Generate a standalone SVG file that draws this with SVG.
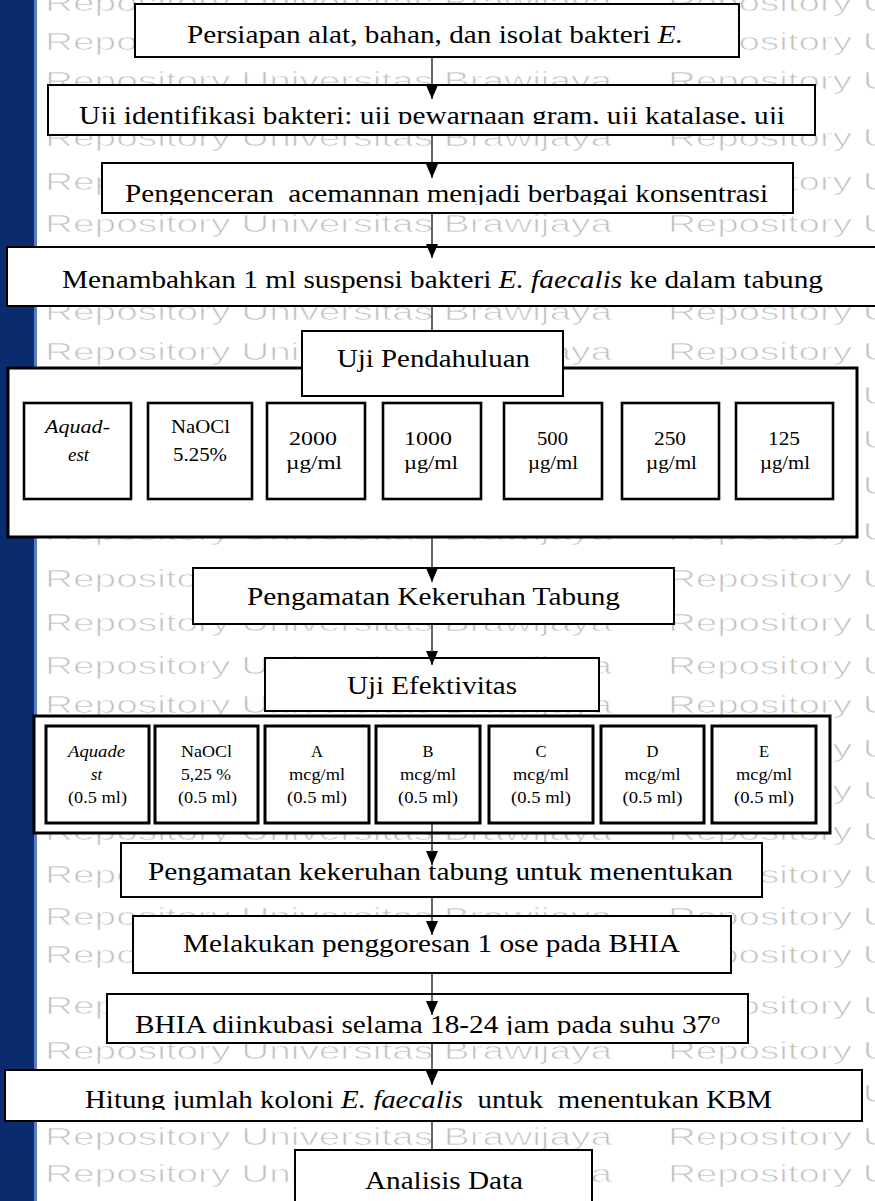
<svg xmlns="http://www.w3.org/2000/svg" xmlns:xlink="http://www.w3.org/1999/xlink" width="875" height="1201" viewBox="0 0 875 1201">
<style>
.wm{font-family:"Liberation Sans",Arial,sans-serif;font-size:23px;fill:#c2c2c2;stroke:#fff;stroke-width:0.7}
.t{font-family:"Liberation Serif","Times New Roman",serif;font-size:25px;fill:#000}
.s{font-family:"Liberation Serif","Times New Roman",serif;font-size:18px;fill:#000}
.x{font-family:"Liberation Serif","Times New Roman",serif;font-size:16.5px;fill:#000}
.i{font-style:italic}
.b{fill:#fff;stroke:#000;stroke-width:2}
.c{fill:#fff;stroke:#000;stroke-width:3}
.ib{fill:#fff;stroke:#000;stroke-width:2.6}
.ln{stroke:#000;stroke-width:1.2;fill:none}
.a{marker-end:url(#ah)}
</style>
<defs>
<marker id="ah" markerUnits="userSpaceOnUse" markerWidth="14" markerHeight="12" refX="14" refY="6" orient="auto">
<path d="M0,0 L14,6 L0,12 z" fill="#000"/>
</marker>
<clipPath id="c2"><rect x="48" y="85" width="767" height="39"/></clipPath>
<clipPath id="c3"><rect x="102" y="163" width="691" height="42"/></clipPath>
<clipPath id="c12"><rect x="107" y="994" width="641" height="41"/></clipPath>
<clipPath id="c13"><rect x="5" y="1070" width="857" height="40"/></clipPath>
<g id="wr">
<text class="wm" x="45" y="0" textLength="567" lengthAdjust="spacingAndGlyphs">Repository Universitas Brawijaya</text>
<text class="wm" x="668" y="0" textLength="385" lengthAdjust="spacingAndGlyphs">Repository Universitas</text>
</g>
</defs>
<rect x="0" y="0" width="875" height="1201" fill="#fff"/>
<g id="watermark">
<use xlink:href="#wr" y="11"/><use xlink:href="#wr" y="50"/><use xlink:href="#wr" y="89"/><use xlink:href="#wr" y="146"/>
<use xlink:href="#wr" y="190"/><use xlink:href="#wr" y="232"/><use xlink:href="#wr" y="276"/><use xlink:href="#wr" y="320"/>
<use xlink:href="#wr" y="360"/><use xlink:href="#wr" y="404"/><use xlink:href="#wr" y="448"/><use xlink:href="#wr" y="494"/>
<use xlink:href="#wr" y="540"/><use xlink:href="#wr" y="587"/><use xlink:href="#wr" y="631"/><use xlink:href="#wr" y="674"/>
<use xlink:href="#wr" y="713"/><use xlink:href="#wr" y="757"/><use xlink:href="#wr" y="799"/><use xlink:href="#wr" y="840"/>
<use xlink:href="#wr" y="883"/><use xlink:href="#wr" y="925"/><use xlink:href="#wr" y="963"/><use xlink:href="#wr" y="1014"/>
<use xlink:href="#wr" y="1059"/><use xlink:href="#wr" y="1102"/><use xlink:href="#wr" y="1145"/><use xlink:href="#wr" y="1182"/>
</g>
<rect x="0" y="0" width="34" height="1201" fill="#0a2b6d"/>
<rect x="34" y="0" width="3" height="1201" fill="#5a7cc0"/>

<g id="n1"><rect class="b" x="135" y="4" width="604" height="53"/>
<text class="t" x="187" y="43" textLength="496" lengthAdjust="spacingAndGlyphs">Persiapan alat, bahan, dan isolat bakteri <tspan class="i">E.</tspan></text></g>
<g id="n2"><rect class="b" x="48" y="85" width="767" height="50"/>
<text class="t" x="79" y="124" textLength="706" lengthAdjust="spacingAndGlyphs" clip-path="url(#c2)">Uji identifikasi bakteri: uji pewarnaan gram, uji katalase, uji</text></g>
<g id="n3"><rect class="b" x="102" y="163" width="691" height="50"/>
<text class="t" x="125" y="202" textLength="643" lengthAdjust="spacingAndGlyphs" clip-path="url(#c3)" xml:space="preserve">Pengenceran  acemannan menjadi berbagai konsentrasi</text></g>
<g id="n4"><rect class="b" x="7" y="247" width="880" height="59"/>
<text class="t" x="62" y="288" textLength="761" lengthAdjust="spacingAndGlyphs">Menambahkan 1 ml suspensi bakteri <tspan class="i">E. faecalis</tspan> ke dalam tabung</text></g>

<g id="n6"><rect class="c" x="8" y="368" width="849" height="169"/>
<rect class="ib" x="24" y="403" width="107" height="96"/>
<text class="s i" x="45" y="433" textLength="65" lengthAdjust="spacingAndGlyphs">Aquad-</text>
<text class="s i" x="68" y="461" textLength="21" lengthAdjust="spacingAndGlyphs">est</text>
<rect class="ib" x="148" y="403" width="104" height="96"/>
<text class="s" x="171" y="433" textLength="59" lengthAdjust="spacingAndGlyphs">NaOCl</text>
<text class="s" x="173" y="461" textLength="54" lengthAdjust="spacingAndGlyphs">5.25%</text>
<rect class="ib" x="267" y="403" width="98" height="96"/>
<text class="s" x="289" y="445" textLength="48" lengthAdjust="spacingAndGlyphs">2000</text>
<text class="s" x="286" y="469" textLength="56" lengthAdjust="spacingAndGlyphs">µg/ml</text>
<rect class="ib" x="383" y="403" width="98" height="96"/>
<text class="s" x="404" y="445" textLength="48" lengthAdjust="spacingAndGlyphs">1000</text>
<text class="s" x="404" y="469" textLength="54" lengthAdjust="spacingAndGlyphs">µg/ml</text>
<rect class="ib" x="504" y="403" width="98" height="96"/>
<text class="s" x="537" y="445" textLength="31" lengthAdjust="spacingAndGlyphs">500</text>
<text class="s" x="528" y="469" textLength="50" lengthAdjust="spacingAndGlyphs">µg/ml</text>
<rect class="ib" x="622" y="403" width="97" height="96"/>
<text class="s" x="654" y="445" textLength="32" lengthAdjust="spacingAndGlyphs">250</text>
<text class="s" x="646" y="469" textLength="51" lengthAdjust="spacingAndGlyphs">µg/ml</text>
<rect class="ib" x="736" y="403" width="97" height="96"/>
<text class="s" x="768" y="445" textLength="32" lengthAdjust="spacingAndGlyphs">125</text>
<text class="s" x="760" y="469" textLength="50" lengthAdjust="spacingAndGlyphs">µg/ml</text>
</g>
<g id="n5"><rect class="b" x="302" y="331" width="261" height="65"/>
<text class="t" x="337" y="367" textLength="193" lengthAdjust="spacingAndGlyphs">Uji Pendahuluan</text></g>

<g id="n7"><rect class="b" x="193" y="568" width="481" height="56"/>
<text class="t" x="247" y="605" textLength="373" lengthAdjust="spacingAndGlyphs">Pengamatan Kekeruhan Tabung</text></g>
<g id="n8"><rect class="b" x="265" y="658" width="334" height="53"/>
<text class="t" x="347" y="694" textLength="170" lengthAdjust="spacingAndGlyphs">Uji Efektivitas</text></g>

<g id="n9"><rect class="c" x="34" y="716" width="796" height="117"/>
<rect class="c" x="46" y="726" width="103" height="97"/>
<text class="x i" x="68" y="757" textLength="57" lengthAdjust="spacingAndGlyphs">Aquade</text>
<text class="x i" x="91" y="780" textLength="11" lengthAdjust="spacingAndGlyphs">st</text>
<text class="x" x="68" y="803" textLength="59" lengthAdjust="spacingAndGlyphs">(0.5 ml)</text>
<rect class="c" x="155" y="726" width="103" height="97"/>
<text class="x" x="181" y="757" textLength="51" lengthAdjust="spacingAndGlyphs">NaOCl</text>
<text class="x" x="181" y="780" textLength="50" lengthAdjust="spacingAndGlyphs">5,25 %</text>
<text class="x" x="178" y="803" textLength="59" lengthAdjust="spacingAndGlyphs">(0.5 ml)</text>
<rect class="c" x="265" y="726" width="104" height="97"/>
<text class="x" x="317" y="757" text-anchor="middle">A</text>
<text class="x" x="289" y="780" textLength="56" lengthAdjust="spacingAndGlyphs">mcg/ml</text>
<text class="x" x="287" y="803" textLength="60" lengthAdjust="spacingAndGlyphs">(0.5 ml)</text>
<rect class="c" x="376" y="726" width="104" height="97"/>
<text class="x" x="428" y="757" text-anchor="middle">B</text>
<text class="x" x="400" y="780" textLength="56" lengthAdjust="spacingAndGlyphs">mcg/ml</text>
<text class="x" x="398" y="803" textLength="60" lengthAdjust="spacingAndGlyphs">(0.5 ml)</text>
<rect class="c" x="489" y="726" width="104" height="97"/>
<text class="x" x="541" y="757" text-anchor="middle">C</text>
<text class="x" x="513" y="780" textLength="56" lengthAdjust="spacingAndGlyphs">mcg/ml</text>
<text class="x" x="511" y="803" textLength="60" lengthAdjust="spacingAndGlyphs">(0.5 ml)</text>
<rect class="c" x="601" y="726" width="103" height="97"/>
<text class="x" x="652.5" y="757" text-anchor="middle">D</text>
<text class="x" x="624.5" y="780" textLength="56" lengthAdjust="spacingAndGlyphs">mcg/ml</text>
<text class="x" x="622.5" y="803" textLength="60" lengthAdjust="spacingAndGlyphs">(0.5 ml)</text>
<rect class="c" x="712" y="726" width="104" height="97"/>
<text class="x" x="764" y="757" text-anchor="middle">E</text>
<text class="x" x="736" y="780" textLength="56" lengthAdjust="spacingAndGlyphs">mcg/ml</text>
<text class="x" x="734" y="803" textLength="60" lengthAdjust="spacingAndGlyphs">(0.5 ml)</text>
</g>

<g id="n10"><rect class="b" x="121" y="843" width="641" height="54"/>
<text class="t" x="148" y="880" textLength="585" lengthAdjust="spacingAndGlyphs">Pengamatan kekeruhan tabung untuk menentukan</text></g>
<g id="n11"><rect class="b" x="133" y="916" width="598" height="57"/>
<text class="t" x="183" y="952" textLength="497" lengthAdjust="spacingAndGlyphs">Melakukan penggoresan 1 ose pada BHIA</text></g>
<g id="n12"><rect class="b" x="107" y="994" width="641" height="49"/>
<text class="t" x="135" y="1033" textLength="585" lengthAdjust="spacingAndGlyphs" clip-path="url(#c12)">BHIA diinkubasi selama 18-24 jam pada suhu 37<tspan font-size="15" dy="-9">o</tspan></text></g>
<g id="n13"><rect class="b" x="5" y="1070" width="857" height="51"/>
<text class="t" x="85" y="1108" textLength="687" lengthAdjust="spacingAndGlyphs" clip-path="url(#c13)" xml:space="preserve">Hitung jumlah koloni <tspan class="i">E. faecalis</tspan>  untuk  menentukan KBM</text></g>
<g id="n14"><rect class="b" x="295" y="1150" width="297" height="60"/>
<text class="t" x="365" y="1189" textLength="158" lengthAdjust="spacingAndGlyphs">Analisis Data</text></g>

<g id="connectors">
<line class="ln a" x1="432" y1="57" x2="432" y2="99"/>
<line class="ln a" x1="432" y1="135" x2="432" y2="178"/>
<line class="ln a" x1="432" y1="213" x2="432" y2="258"/>
<line class="ln" x1="432" y1="306" x2="432" y2="331"/>
<line class="ln a" x1="432" y1="538" x2="432" y2="582"/>
<line class="ln a" x1="432" y1="624" x2="432" y2="665"/>
<line class="ln a" x1="432" y1="823" x2="432" y2="865"/>
<line class="ln a" x1="432" y1="897" x2="432" y2="935"/>
<line class="ln a" x1="432" y1="973" x2="432" y2="1015"/>
<line class="ln a" x1="432" y1="1043" x2="432" y2="1085"/>
<line class="ln" x1="432" y1="1121" x2="432" y2="1150"/>
</g>
</svg>
